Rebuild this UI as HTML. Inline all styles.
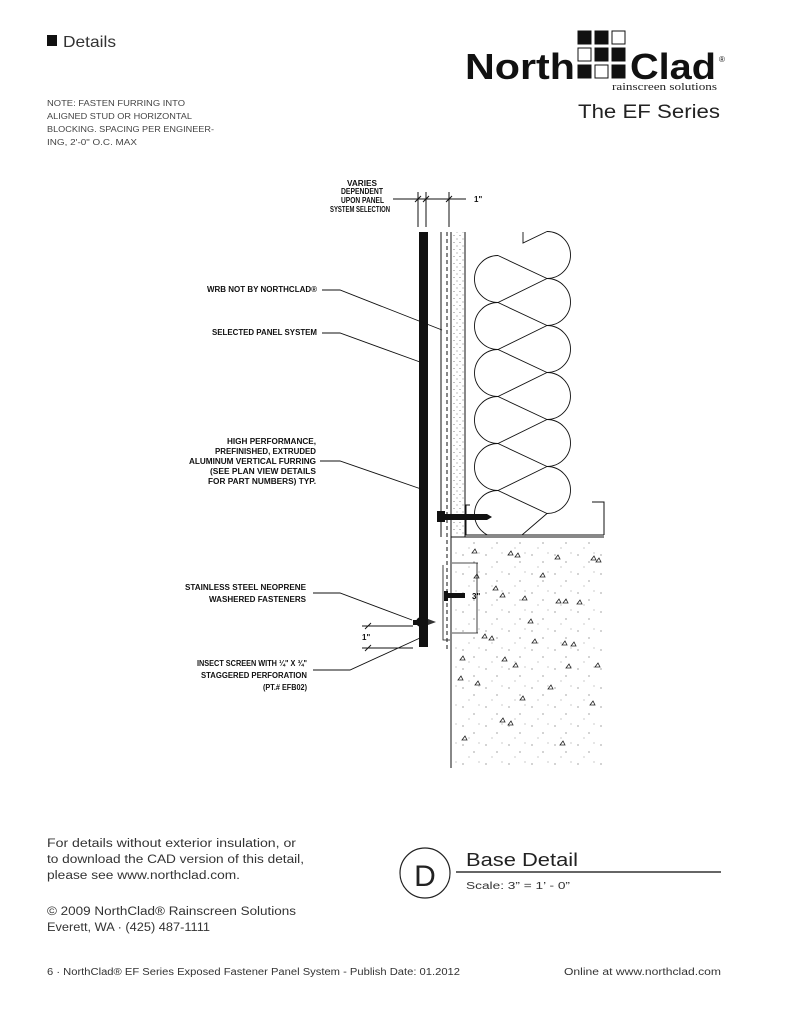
<!DOCTYPE html>
<html><head><meta charset="utf-8"><style>
body{margin:0;background:#fff;}
svg{display:block;}
</style></head><body>
<svg width="791" height="1024" viewBox="0 0 791 1024" xmlns="http://www.w3.org/2000/svg" font-family="Liberation Sans, sans-serif">
<defs>
<pattern id="dots" width="6" height="7" patternUnits="userSpaceOnUse"><circle cx="1" cy="1" r="0.5" fill="#555"/><circle cx="4" cy="4.5" r="0.5" fill="#555"/></pattern>
<pattern id="cdots" width="23" height="19" patternUnits="userSpaceOnUse"><circle cx="3" cy="4" r="0.6" fill="#666"/><circle cx="14" cy="11" r="0.6" fill="#666"/><circle cx="9" cy="16" r="0.5" fill="#777"/><circle cx="19" cy="2" r="0.5" fill="#777"/></pattern>
<clipPath id="insclip"><rect x="460" y="225" width="150" height="310"/></clipPath>
</defs>
<rect width="791" height="1024" fill="#fff"/>
<!-- header -->
<rect x="47" y="35" width="10" height="11" fill="#111"/>
<text x="63" y="47" font-size="16" fill="#333" textLength="53" lengthAdjust="spacingAndGlyphs">Details</text>
<g font-size="8.5" fill="#444">
<text x="47" y="106" textLength="138" lengthAdjust="spacingAndGlyphs">NOTE: FASTEN FURRING INTO</text>
<text x="47" y="119" textLength="145" lengthAdjust="spacingAndGlyphs">ALIGNED STUD OR HORIZONTAL</text>
<text x="47" y="132" textLength="167" lengthAdjust="spacingAndGlyphs">BLOCKING. SPACING PER ENGINEER-</text>
<text x="47" y="145" textLength="90" lengthAdjust="spacingAndGlyphs">ING, 2'-0" O.C. MAX</text>
</g>
<!-- logo -->
<text x="465" y="79" font-size="36" font-weight="bold" fill="#111" textLength="110" lengthAdjust="spacingAndGlyphs">North</text>
<text x="630" y="79" font-size="36" font-weight="bold" fill="#111" textLength="86" lengthAdjust="spacingAndGlyphs">Clad</text>
<text x="719" y="62" font-size="8" fill="#111">®</text>
<g stroke="#111" stroke-width="1">
<rect x="578" y="31" width="13" height="13" fill="#111"/><rect x="595" y="31" width="13" height="13" fill="#111"/><rect x="612" y="31" width="13" height="13" fill="#fff"/>
<rect x="578" y="48" width="13" height="13" fill="#fff"/><rect x="595" y="48" width="13" height="13" fill="#111"/><rect x="612" y="48" width="13" height="13" fill="#111"/>
<rect x="578" y="65" width="13" height="13" fill="#111"/><rect x="595" y="65" width="13" height="13" fill="#fff"/><rect x="612" y="65" width="13" height="13" fill="#111"/>
</g>
<text x="612" y="90" font-size="10" fill="#222" font-family="Liberation Serif, serif" textLength="105" lengthAdjust="spacingAndGlyphs">rainscreen solutions</text>
<text x="578" y="118" font-size="19" fill="#222" textLength="142" lengthAdjust="spacingAndGlyphs">The EF Series</text>

<!-- drawing -->
<g stroke="#111" fill="none" stroke-width="1">
<line x1="393" y1="199" x2="466" y2="199"/>
<line x1="418" y1="192" x2="418" y2="227"/><line x1="426" y1="192" x2="426" y2="227"/><line x1="449" y1="192" x2="449" y2="227"/>
<line x1="415" y1="202" x2="421" y2="196"/><line x1="423" y1="202" x2="429" y2="196"/><line x1="446" y1="202" x2="452" y2="196"/>
<line x1="441" y1="232" x2="441" y2="537"/>
<line x1="447" y1="232" x2="447" y2="650" stroke-dasharray="4,3"/>
<line x1="465" y1="232" x2="465" y2="537"/>
<line x1="451" y1="232" x2="451" y2="537"/>
<line x1="451" y1="537" x2="604" y2="537"/>
<line x1="451" y1="537" x2="451" y2="768"/>
<line x1="465" y1="535" x2="604" y2="535"/>
<polyline points="466,535 466,505 470,505"/>
<polyline points="592,502 604,502 604,535"/>
</g>
<rect x="419" y="232" width="9" height="415" fill="#111"/>
<rect x="452" y="232" width="12" height="303" fill="url(#dots)"/>
<rect x="453" y="539" width="150" height="228" fill="url(#cdots)"/>
<!-- insulation -->
<g stroke="#111" fill="none" stroke-width="0.9" clip-path="url(#insclip)">
<polyline points="523,232 523,243 547,231.5"/>
<path d="M547 231.5 A23.5 23.5 0 0 1 547 278.5 M547 278.5 A23.5 23.5 0 0 1 547 325.5 M547 325.5 A23.5 23.5 0 0 1 547 372.5 M547 372.5 A23.5 23.5 0 0 1 547 419.5 M547 419.5 A23.5 23.5 0 0 1 547 466.5 M547 466.5 A23.5 23.5 0 0 1 547 513.5"/>
<path d="M498 255.5 A23.5 23.5 0 0 0 498 302.5 M498 302.5 A23.5 23.5 0 0 0 498 349.5 M498 349.5 A23.5 23.5 0 0 0 498 396.5 M498 396.5 A23.5 23.5 0 0 0 498 443.5 M498 443.5 A23.5 23.5 0 0 0 498 490.5 M498 490.5 A23.5 23.5 0 0 0 498 537.5"/>
<path d="M498 255.5 L547 278.5 M498 302.5 L547 278.5 M498 302.5 L547 325.5 M498 349.5 L547 325.5 M498 349.5 L547 372.5 M498 396.5 L547 372.5 M498 396.5 L547 419.5 M498 443.5 L547 419.5 M498 443.5 L547 466.5 M498 490.5 L547 466.5 M498 490.5 L547 513.5 M522 535 L547 513.5"/>
</g>
<!-- fastener top -->
<rect x="437" y="511" width="8" height="11" fill="#111"/>
<rect x="445" y="514" width="42" height="6" fill="#111"/>
<path d="M487 514 L492 517 L487 520Z" fill="#111"/>
<!-- anchor -->
<rect x="444" y="591" width="4" height="10" fill="#111"/>
<rect x="448" y="593" width="17" height="5" fill="#111"/>
<text x="472" y="599" font-size="8" font-weight="bold">3"</text>
<g stroke="#111" fill="none" stroke-width="0.8">
<line x1="452" y1="563" x2="478" y2="563"/><line x1="452" y1="633" x2="478" y2="633"/>
<line x1="477" y1="563" x2="477" y2="633"/>
<polyline points="443,565 443,640 450,640"/>
</g>
<circle cx="421" cy="622" r="5" fill="#111"/>
<rect x="413" y="620" width="5" height="5" fill="#111"/>
<path d="M428 619 L436 622 L428 625Z" fill="#333"/>
<g stroke="#222" fill="none" stroke-width="0.8">
<path d="M472 553l3-4l2 4z M508 555l3-4l2 4z M515 557l3-4l2 4z M555 559l3-4l2 4z M591 560l3-4l2 4z M596 562l3-4l2 4z M540 577l3-4l2 4z M474 578l3-4l2 4z M493 590l3-4l2 4z M500 597l3-4l2 4z M522 600l3-4l2 4z M556 603l3-4l2 4z M563 603l3-4l2 4z M577 604l3-4l2 4z M528 623l3-4l2 4z M482 638l3-4l2 4z M489 640l3-4l2 4z M532 643l3-4l2 4z M562 645l3-4l2 4z M571 646l3-4l2 4z M460 660l3-4l2 4z M502 661l3-4l2 4z M513 667l3-4l2 4z M566 668l3-4l2 4z M595 667l3-4l2 4z M458 680l3-4l2 4z M475 685l3-4l2 4z M548 689l3-4l2 4z M520 700l3-4l2 4z M590 705l3-4l2 4z M500 722l3-4l2 4z M508 725l3-4l2 4z M462 740l3-4l2 4z M560 745l3-4l2 4z"/>
</g>
<!-- labels -->
<g font-size="8" font-weight="bold" fill="#111" text-anchor="end" lengthAdjust="spacingAndGlyphs">
<text x="377" y="186" textLength="30" lengthAdjust="spacingAndGlyphs">VARIES</text>
<text x="383" y="194" textLength="42" lengthAdjust="spacingAndGlyphs">DEPENDENT</text>
<text x="384" y="203" textLength="43" lengthAdjust="spacingAndGlyphs">UPON PANEL</text>
<text x="390" y="212" textLength="60" lengthAdjust="spacingAndGlyphs">SYSTEM SELECTION</text>
<text x="474" y="202" text-anchor="start">1"</text>
<text x="317" y="292" textLength="110" lengthAdjust="spacingAndGlyphs">WRB NOT BY NORTHCLAD®</text>
<text x="317" y="335" textLength="105" lengthAdjust="spacingAndGlyphs">SELECTED PANEL SYSTEM</text>
<text x="316" y="444" textLength="89" lengthAdjust="spacingAndGlyphs">HIGH PERFORMANCE,</text>
<text x="316" y="454" textLength="101" lengthAdjust="spacingAndGlyphs">PREFINISHED, EXTRUDED</text>
<text x="316" y="464" textLength="127" lengthAdjust="spacingAndGlyphs">ALUMINUM VERTICAL FURRING</text>
<text x="316" y="474" textLength="106" lengthAdjust="spacingAndGlyphs">(SEE PLAN VIEW DETAILS</text>
<text x="316" y="484" textLength="108" lengthAdjust="spacingAndGlyphs">FOR PART NUMBERS) TYP.</text>
<text x="306" y="590" textLength="121" lengthAdjust="spacingAndGlyphs">STAINLESS STEEL NEOPRENE</text>
<text x="306" y="602" textLength="97" lengthAdjust="spacingAndGlyphs">WASHERED FASTENERS</text>
<text x="362" y="640" text-anchor="start">1"</text>
<text x="307" y="666" textLength="110" lengthAdjust="spacingAndGlyphs">INSECT SCREEN WITH ¼" X ¾"</text>
<text x="307" y="678" textLength="106" lengthAdjust="spacingAndGlyphs">STAGGERED PERFORATION</text>
<text x="307" y="690" textLength="44" lengthAdjust="spacingAndGlyphs">(PT.# EFB02)</text>
</g>
<g stroke="#111" fill="none" stroke-width="0.9">
<polyline points="322,290 340,290 442,330"/>
<polyline points="322,333 340,333 420,362"/>
<polyline points="320,461 340,461 424,490"/>
<polyline points="313,593 340,593 412,620"/>
<polyline points="313,670 350,670 420,638"/>
<line x1="362" y1="626" x2="413" y2="626"/><line x1="362" y1="648" x2="413" y2="648"/>
<line x1="365" y1="629" x2="371" y2="623"/><line x1="365" y1="651" x2="371" y2="645"/>
</g>
<!-- bottom text -->
<g font-size="11.5" fill="#333">
<text x="47" y="847" textLength="249" lengthAdjust="spacingAndGlyphs">For details without exterior insulation, or</text>
<text x="47" y="863" textLength="257" lengthAdjust="spacingAndGlyphs">to download the CAD version of this detail,</text>
<text x="47" y="879" textLength="193" lengthAdjust="spacingAndGlyphs">please see www.northclad.com.</text>
<text x="47" y="915" textLength="249" lengthAdjust="spacingAndGlyphs">© 2009 NorthClad® Rainscreen Solutions</text>
<text x="47" y="931" textLength="163" lengthAdjust="spacingAndGlyphs">Everett, WA · (425) 487-1111</text>
</g>
<circle cx="425" cy="873" r="25" fill="none" stroke="#222" stroke-width="1.2"/>
<text x="425" y="886" font-size="30" fill="#222" text-anchor="middle">D</text>
<line x1="456" y1="872" x2="721" y2="872" stroke="#333" stroke-width="1.5"/>
<text x="466" y="866" font-size="18" fill="#222" textLength="112" lengthAdjust="spacingAndGlyphs">Base Detail</text>
<text x="466" y="889" font-size="10" fill="#333" textLength="104" lengthAdjust="spacingAndGlyphs">Scale: 3” = 1’ - 0”</text>
<text x="47" y="975" font-size="10" fill="#333" textLength="413" lengthAdjust="spacingAndGlyphs">6 · NorthClad® EF Series Exposed Fastener Panel System - Publish Date: 01.2012</text>
<text x="721" y="975" font-size="10" fill="#333" text-anchor="end" textLength="157" lengthAdjust="spacingAndGlyphs">Online at www.northclad.com</text>
</svg>
</body></html>
